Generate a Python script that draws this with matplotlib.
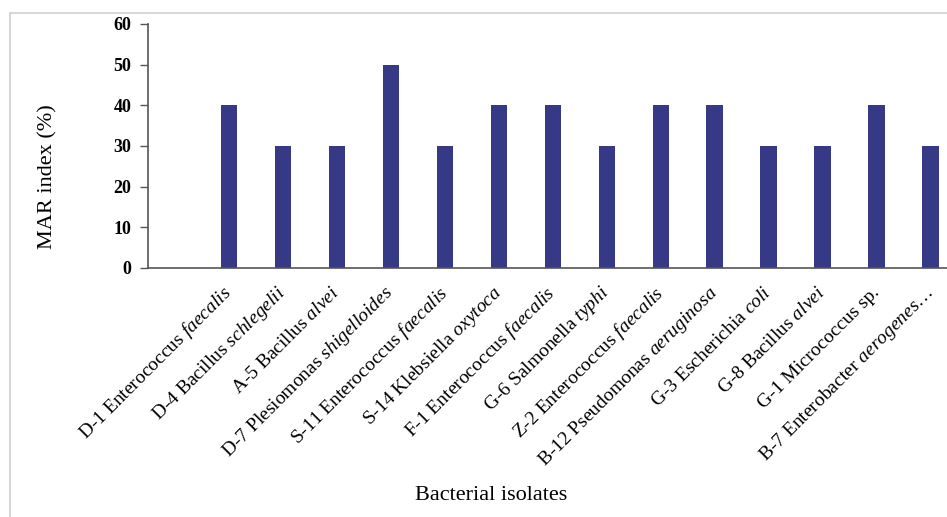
import matplotlib
matplotlib.use("Agg")
import matplotlib.pyplot as plt
import matplotlib.patches as mpatches
import matplotlib.transforms as mtransforms
import numpy as np

plt.rcParams['font.family'] = 'Liberation Serif'
plt.rcParams['mathtext.fontset'] = 'custom'
plt.rcParams['mathtext.rm'] = 'Liberation Serif'
plt.rcParams['mathtext.it'] = 'Liberation Serif:italic'

# isolate code + genus (upright) and species (italic)
codes = ["D-1", "D-4", "A-5", "D-7", "S-11", "S-14", "F-1",
         "G-6", "Z-2", "B-12", "G-3", "G-8", "G-1", "B-7"]
genus = ["Enterococcus", "Bacillus", "Bacillus", "Plesiomonas", "Enterococcus",
         "Klebsiella", "Enterococcus", "Salmonella", "Enterococcus", "Pseudomonas",
         "Escherichia", "Bacillus", "Micrococcus", "Enterobacter"]
species = ["faecalis", "schlegelii", "alvei", "shigelloides", "faecalis",
           "oxytoca", "faecalis", "typhi", "faecalis", "aeruginosa",
           "coli", "alvei", "sp.", "aerogenes"]
mar_index = [40, 30, 30, 50, 30, 40, 40, 30, 40, 40, 30, 30, 40, 30]

labels = []
for c, g, s in zip(codes, genus, species):
    if s == "sp.":
        labels.append(f"{c} {g} {s}")
    elif c == "B-7":
        labels.append(f"{c} {g} $\\mathit{{{s}}}$…")
    else:
        labels.append(f"{c} {g} $\\mathit{{{s}}}$")

fig = plt.figure(figsize=(9.47, 5.17), dpi=100)
ax = fig.add_axes([148 / 947, 1 - 268 / 517, 799 / 947, 244 / 517])

# light frame around the figure
fig.patches.append(mpatches.Rectangle((10 / 947, -0.1), 1.2, 1 - 13 / 517 + 0.1,
                                      transform=fig.transFigure, fill=False,
                                      edgecolor="#d0d0d0", linewidth=1.2))

x = np.arange(len(labels))
ax.bar(x, mar_index, width=0.31, color="#363a86")

ax.set_xlim(-1.5, 13.3)
ax.set_ylim(0, 60)
ax.set_yticks(range(0, 61, 10))
ax.set_xticks(x)
ax.set_xticklabels([])

# rotated category labels, anchored just below the axis line
shift = mtransforms.ScaledTranslation(0 / 100, -22 / 100, fig.dpi_scale_trans)
for xi, lab in zip(x, labels):
    ax.text(xi, 0, lab, transform=ax.get_xaxis_transform() + shift,
            rotation=45, ha="right", va="center", rotation_mode="anchor",
            fontsize=14, clip_on=False)

for lab in ax.get_yticklabels():
    lab.set_fontweight("bold")
    lab.set_fontsize(13)

ax.tick_params(axis="x", length=0)
ax.tick_params(axis="y", length=6, width=1, color="#555555", pad=6)
for side in ["top", "right"]:
    ax.spines[side].set_visible(False)
for side in ["left", "bottom"]:
    ax.spines[side].set_color("#555555")
    ax.spines[side].set_linewidth(1.2)

fig.text(491 / 947, 1 - 496 / 517, "Bacterial isolates", fontsize=16, ha="center", va="center")
fig.text(48 / 947, 1 - 177 / 517, "MAR index (%)", fontsize=16, rotation=90, ha="center", va="center")

fig.savefig("out.png", dpi=100)
